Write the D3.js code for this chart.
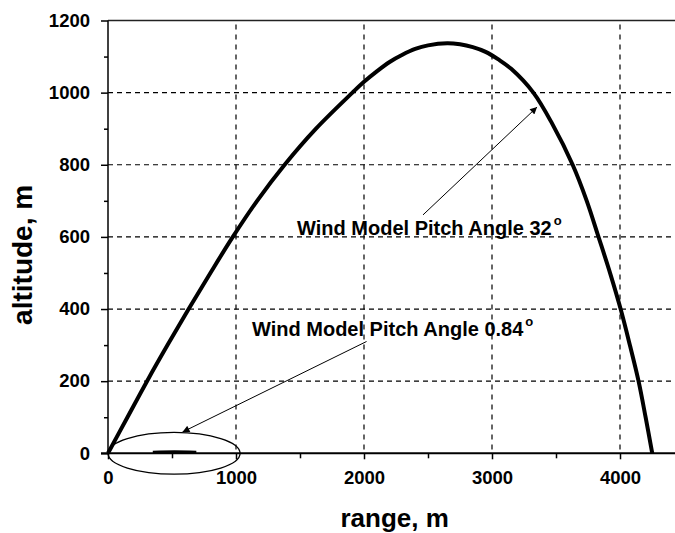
<!DOCTYPE html>
<html>
<head>
<meta charset="utf-8">
<script src="https://cdn.jsdelivr.net/npm/d3@7"></script>
<style>
  html, body { margin: 0; padding: 0; background: #fff; }
  svg { display: block; }
  text { font-family: "Liberation Sans", Arial, sans-serif; font-weight: bold; fill: #000; }
</style>
</head>
<body>
<svg id="chart" width="675" height="533"></svg>
<script>
// ---- data ----
const rangeTicks = [0, 1000, 2000, 3000, 4000];
const rangeMinorTicks = [500, 1500, 2500, 3500];
const altTicks = [0, 200, 400, 600, 800, 1000, 1200];
const altMinorTicks = [100, 300, 500, 700, 900, 1100];

// trajectory, pitch angle 32 deg
const range32 = [0, 152, 305, 465, 630, 800, 975, 1165, 1380, 1625, 1910, 2000, 2100, 2200, 2300, 2400, 2500, 2650, 2750, 2850, 2950, 3050, 3150, 3323, 3470, 3630, 3740, 3832, 3925, 4005, 4080, 4145, 4200, 4252];
const alt32   = [0, 100, 200, 300, 400, 500, 600, 700, 800, 900, 1000, 1030, 1059, 1085, 1105, 1121, 1131, 1137, 1134, 1126, 1113, 1092, 1066, 1000, 914, 800, 700, 600, 497, 400, 296, 200, 100, 0];

// trajectory, pitch angle 0.84 deg (visible part)
const range084 = [350, 520, 690];
const alt084   = [3, 4, 3];

// annotations (data coordinates)
const labels = ["Wind Model Pitch Angle 32", "Wind Model Pitch Angle 0.84"];
const labelAnchorRange = [1477, 1125];
const labelAnchorAlt   = [605, 324];
const arrowFromRange = [2461, 2020];
const arrowFromAlt   = [661, 310];
const arrowToRange   = [3352, 582];
const arrowToAlt     = [960, 59];

// highlight ellipse (data coordinates)
const ellipseCenter = [516, 0];
const ellipseRadii  = [516, 58];

// ---- chart ----
const W = 675, H = 533;
const svg = d3.select("#chart");
svg.append("rect").attr("width", W).attr("height", H).attr("fill", "#fff");

const x = d3.scaleLinear().domain([0, 4000]).range([108, 620]);
const y = d3.scaleLinear().domain([0, 1200]).range([453.3, 20.5]);
const xRight = W;

// grid
const grid = svg.append("g");
grid.selectAll("line.v").data(rangeTicks.slice(1)).join("line")
  .attr("x1", d => x(d)).attr("x2", d => x(d))
  .attr("y1", y(1200) + 4).attr("y2", y(0))
  .attr("stroke", "#000").attr("stroke-width", 1.2)
  .attr("stroke-dasharray", "5,5");
grid.selectAll("line.h").data(altTicks.slice(1, -1)).join("line")
  .attr("x1", x(0)).attr("x2", xRight)
  .attr("y1", d => y(d)).attr("y2", d => y(d))
  .attr("stroke", "#000").attr("stroke-width", 1.2)
  .attr("stroke-dasharray", "5,4");

// axes frame
svg.append("line").attr("x1", x(0)).attr("x2", xRight).attr("y1", y(1200)).attr("y2", y(1200))
  .attr("stroke", "#222").attr("stroke-width", 1.6);
svg.append("line").attr("x1", x(0)).attr("x2", x(0)).attr("y1", y(1200)).attr("y2", y(0))
  .attr("stroke", "#000").attr("stroke-width", 1.5);
svg.append("line").attr("x1", x(0) - 7).attr("x2", xRight).attr("y1", y(0)).attr("y2", y(0))
  .attr("stroke", "#000").attr("stroke-width", 2);

// x axis ticks
const gx = svg.append("g").attr("transform", `translate(0,${y(0)})`)
  .call(d3.axisBottom(x).tickValues(rangeTicks).tickSize(6).tickSizeOuter(0).tickFormat(d3.format("d")));
gx.select(".domain").remove();
gx.selectAll(".tick line").attr("stroke", "#000").attr("stroke-width", 1.5);
gx.selectAll(".tick text").attr("y", 31).attr("dy", null)
  .style("font-family", "'Liberation Sans', Arial, sans-serif").style("font-weight", "bold")
  .style("font-size", "18.5px").attr("fill", "#000");
const gxm = svg.append("g").attr("transform", `translate(0,${y(0)})`)
  .call(d3.axisBottom(x).tickValues(rangeMinorTicks).tickSize(5).tickSizeOuter(0).tickFormat(""));
gxm.select(".domain").remove();
gxm.selectAll(".tick line").attr("stroke", "#000").attr("stroke-width", 1.5);

// y axis ticks
const gy = svg.append("g").attr("transform", `translate(${x(0)},0)`)
  .call(d3.axisLeft(y).tickValues(altTicks).tickSize(7).tickSizeOuter(0).tickFormat(d3.format("d")));
gy.select(".domain").remove();
gy.selectAll(".tick line").attr("stroke", "#000").attr("stroke-width", 1.5);
gy.selectAll(".tick text").attr("x", -18).attr("dy", "0.31em")
  .style("font-family", "'Liberation Sans', Arial, sans-serif").style("font-weight", "bold")
  .style("font-size", "18.5px").attr("fill", "#000");
const gym = svg.append("g").attr("transform", `translate(${x(0)},0)`)
  .call(d3.axisLeft(y).tickValues(altMinorTicks).tickSize(4).tickSizeOuter(0).tickFormat(""));
gym.select(".domain").remove();
gym.selectAll(".tick line").attr("stroke", "#000").attr("stroke-width", 1.5);

// axis titles
svg.append("text")
  .attr("transform", `translate(32,${(y(0) + y(1200)) / 2 + 18}) rotate(-90)`)
  .attr("text-anchor", "middle").style("font-size", "28px").text("altitude, m");
svg.append("text")
  .attr("x", 394.7).attr("y", 526.7)
  .attr("text-anchor", "middle").style("font-size", "26px").text("range, m");

// trajectories
const line = d3.line().x(d => x(d[0])).y(d => y(d[1])).curve(d3.curveCatmullRom.alpha(0.5));
svg.append("path").datum(range32.map((r, i) => [r, alt32[i]]))
  .attr("d", line).attr("fill", "none").attr("stroke", "#000")
  .attr("stroke-width", 4).attr("stroke-linejoin", "round");
svg.append("path").datum(range084.map((r, i) => [r, alt084[i]]))
  .attr("d", line).attr("fill", "none").attr("stroke", "#000")
  .attr("stroke-width", 3);

// ellipse
svg.append("ellipse")
  .attr("cx", x(ellipseCenter[0])).attr("cy", y(ellipseCenter[1]))
  .attr("rx", x(ellipseRadii[0]) - x(0)).attr("ry", y(0) - y(ellipseRadii[1]))
  .attr("fill", "none").attr("stroke", "#000").attr("stroke-width", 1.3);

// arrows
const defs = svg.append("defs");
defs.append("marker").attr("id", "arrow").attr("viewBox", "0 0 10 10")
  .attr("refX", 10).attr("refY", 5).attr("markerWidth", 9).attr("markerHeight", 7)
  .attr("markerUnits", "userSpaceOnUse").attr("orient", "auto")
  .append("path").attr("d", "M0,0 L10,5 L0,10 Z").attr("fill", "#000");
labels.forEach((t, i) => {
  svg.append("line")
    .attr("x1", x(arrowFromRange[i])).attr("y1", y(arrowFromAlt[i]))
    .attr("x2", x(arrowToRange[i])).attr("y2", y(arrowToAlt[i]))
    .attr("stroke", "#000").attr("stroke-width", 1)
    .attr("marker-end", "url(#arrow)");
  const tx = svg.append("text")
    .attr("x", x(labelAnchorRange[i])).attr("y", y(labelAnchorAlt[i]))
    .style("font-size", "20px");
  tx.append("tspan").text(t);
  tx.append("tspan").attr("dx", 2).attr("dy", -10).style("font-size", "13px").text("o");
});
</script>
</body>
</html>
